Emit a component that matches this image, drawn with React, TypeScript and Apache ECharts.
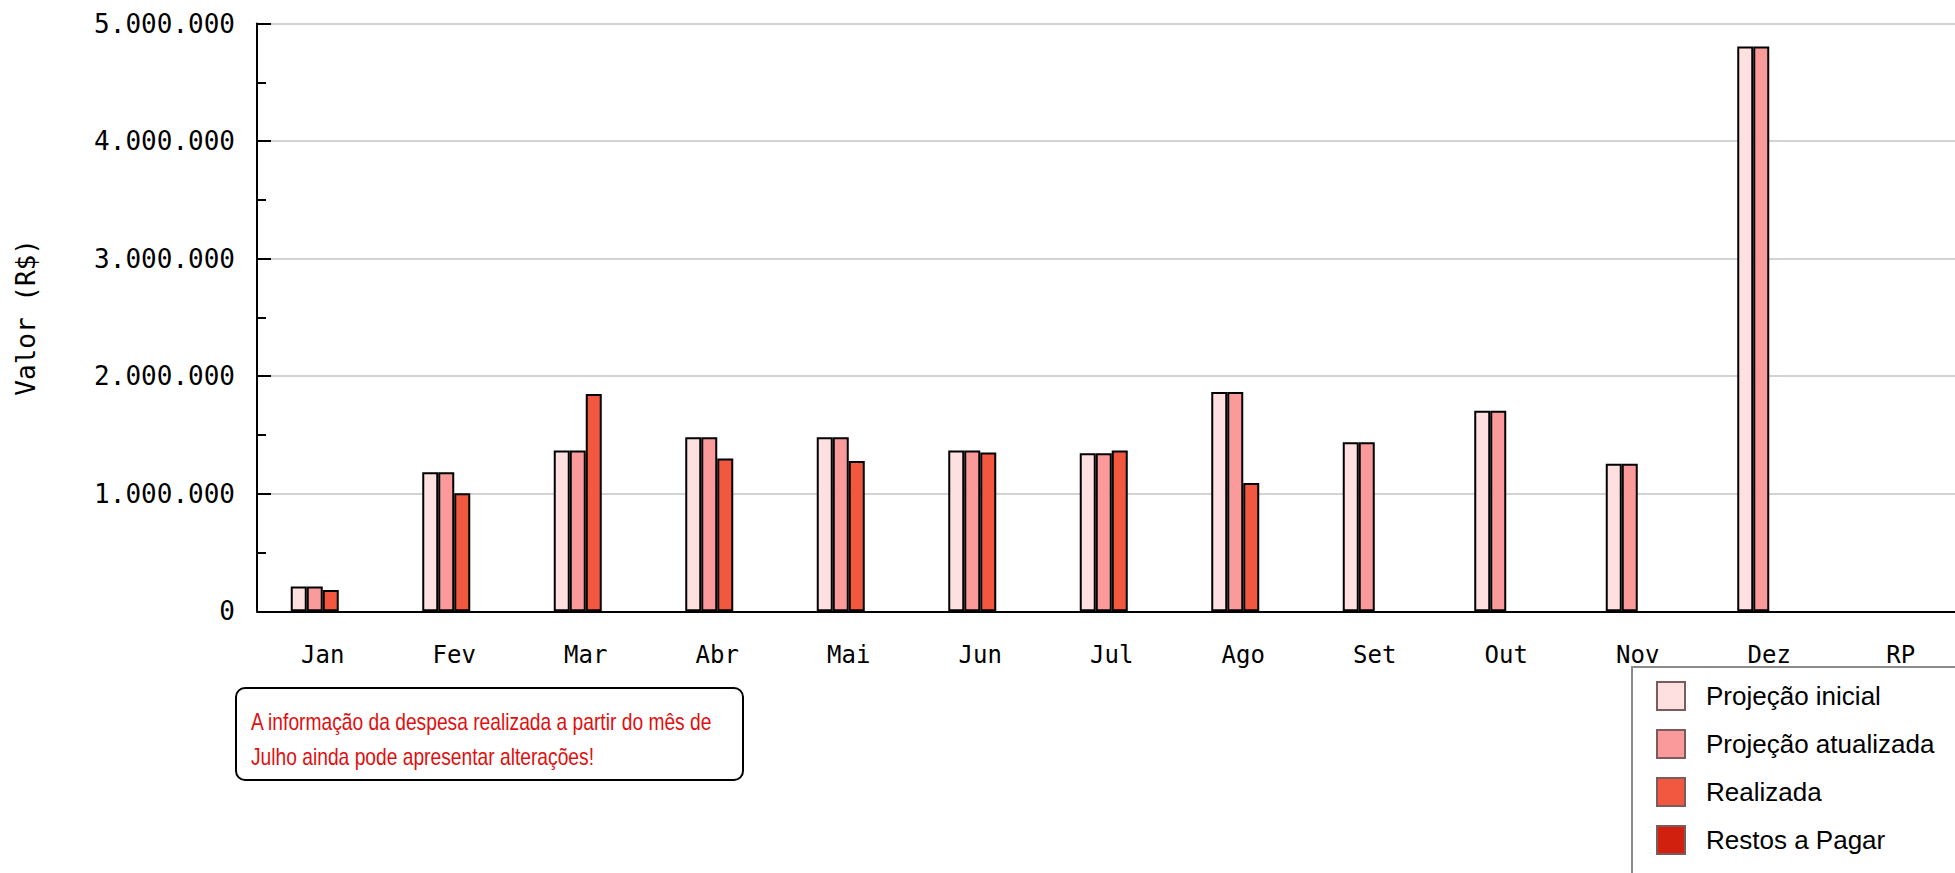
import React, { useEffect, useRef } from "react";
import * as echarts from "echarts";

const categories = ["Jan", "Fev", "Mar", "Abr", "Mai", "Jun", "Jul", "Ago", "Set", "Out", "Nov", "Dez", "RP"];
const projecaoInicial = [210000, 1183000, 1367000, 1481000, 1481000, 1367000, 1345000, 1866000, 1438000, 1707000, 1256000, 4805000, null];
const projecaoAtualizada = [210000, 1183000, 1367000, 1481000, 1481000, 1367000, 1345000, 1866000, 1438000, 1707000, 1256000, 4805000, null];
const realizada = [181000, 1004000, 1849000, 1299000, 1279000, 1350000, 1367000, 1092000, null, null, null, null, null];
const restosAPagar = [null, null, null, null, null, null, null, null, null, null, null, null, null];

const seriesNames = ["Projeção inicial", "Projeção atualizada", "Realizada", "Restos a Pagar"];
const seriesColors = ["#FFE0E0", "#FB9A9A", "#F2573F", "#D2200E"];
const yMin = 0;
const yMax = 5000000;
const yInterval = 1000000;
const yAxisTitle = "Valor (R$)";
const noteLines = [
  "A informação da despesa realizada a partir do mês de",
  "Julho ainda pode apresentar alterações!",
];

const fmt = (v: number) => String(v).replace(/\B(?=(\d{3})+(?!\d))/g, ".");

export default function App() {
  const ref = useRef<HTMLDivElement>(null);
  useEffect(() => {
    if (!ref.current) return;
    const chart = echarts.init(ref.current, null, { renderer: "svg" });
    const dataSets = [projecaoInicial, projecaoAtualizada, realizada, restosAPagar];
    chart.setOption({
      animation: false,
      backgroundColor: "#ffffff",
      grid: { left: 257, top: 23.5, width: 1709.5, height: 587.8, containLabel: false },
      legend: {
        orient: "vertical",
        left: 1632,
        top: 667,
        data: seriesNames,
        itemWidth: 28,
        itemHeight: 28,
        itemGap: 18,
        padding: [14, 40, 60, 24],
        borderColor: "#8a8a8a",
        borderWidth: 2,
        backgroundColor: "#ffffff",
        icon: "rect",
        itemStyle: { borderColor: "#7a5c5c", borderWidth: 2 },
        textStyle: {
          fontFamily: "Liberation Sans",
          fontSize: 26,
          color: "#000",
          padding: [0, 0, 0, 16],
        },
      },
      xAxis: {
        type: "category",
        data: categories,
        axisLine: { lineStyle: { color: "#000", width: 2 } },
        axisTick: { inside: true, length: 13, lineStyle: { color: "#000", width: 2 } },
        axisLabel: {
          fontFamily: "DejaVu Sans Mono",
          fontSize: 24,
          color: "#000",
          margin: 32,
        },
        splitLine: { show: false },
      },
      yAxis: {
        type: "value",
        min: yMin,
        max: yMax,
        interval: yInterval,
        name: yAxisTitle,
        nameLocation: "middle",
        nameGap: 218,
        nameTextStyle: { fontFamily: "DejaVu Sans Mono", fontSize: 26, color: "#000" },
        axisLine: { show: true, lineStyle: { color: "#000", width: 2 } },
        axisTick: { show: true, inside: true, length: 14, lineStyle: { color: "#000", width: 2 } },
        minorTick: { show: true, splitNumber: 2, length: 9, lineStyle: { color: "#000", width: 2 } },
        axisLabel: {
          fontFamily: "DejaVu Sans Mono",
          fontSize: 26,
          color: "#000",
          margin: 22,
          formatter: (v: number) => fmt(v),
        },
        splitLine: { show: true, lineStyle: { color: "#c4c4c4", width: 1.5 } },
      },
      series: seriesNames.map((name, i) => ({
        name,
        type: "bar",
        data: dataSets[i],
        barWidth: 16,
        barGap: "0%",
        itemStyle: { color: seriesColors[i], borderColor: "#000", borderWidth: 2 },
      })),
      graphic: [
        {
          type: "rect",
          left: 235,
          top: 687,
          shape: { width: 507, height: 92, r: 9 },
          style: { fill: "#ffffff", stroke: "#000", lineWidth: 2 },
        },
        {
          type: "text",
          x: 251,
          y: 722,
          scaleX: 0.836,
          style: {
            text: noteLines[0],
            fill: "#E01010",
            fontSize: 23,
            fontFamily: "Liberation Sans",
            align: "left",
            verticalAlign: "middle",
          },
        },
        {
          type: "text",
          x: 251,
          y: 757,
          scaleX: 0.836,
          style: {
            text: noteLines[1],
            fill: "#E01010",
            fontSize: 23,
            fontFamily: "Liberation Sans",
            align: "left",
            verticalAlign: "middle",
          },
        },
      ],
    });
    return () => chart.dispose();
  }, []);
  return (
    <div style={{ position: "absolute", left: 0, top: 0, width: 1955, height: 873, overflow: "hidden" }}>
      <div ref={ref} style={{ width: 2010, height: 960 }} />
    </div>
  );
}
